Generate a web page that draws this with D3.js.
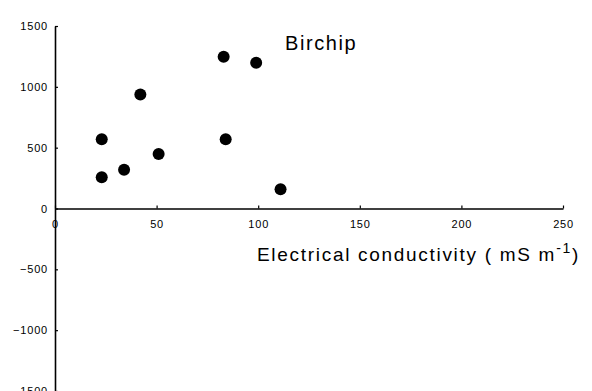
<!DOCTYPE html>
<html>
<head>
<meta charset="utf-8">
<script src="https://cdn.jsdelivr.net/npm/d3@7"></script>
<style>
  body { margin: 0; background: #fff; }
  svg { display: block; }
</style>
</head>
<body>
<div id="chart"></div>
<script>
// Birchip site: electrical conductivity vs response
const conductivity = [23, 23, 34, 42, 51, 83, 84, 99, 111];
const response = [569, 256, 319, 937, 447, 1248, 569, 1198, 159];
const xTicks = [0, 50, 100, 150, 200, 250];
const yTicks = [-1500, -1000, -500, 0, 500, 1000, 1500];
const siteName = "Birchip";

const width = 592;
const height = 391;

const svg = d3.select("#chart").append("svg")
    .attr("width", width)
    .attr("height", height);

const x = d3.scaleLinear().domain([0, 250]).range([55, 563]);
const y = d3.scaleLinear().domain([-1500, 1500]).range([391, 26]);

const font = "'Liberation Sans', Arial, sans-serif";

// Y axis (ticks point inward)
const yAxis = svg.append("g")
    .attr("transform", `translate(${x(0)},0)`)
    .call(d3.axisLeft(y).tickValues(yTicks).tickFormat(d3.format("d"))
        .tickSizeInner(-3).tickSizeOuter(0).tickPadding(7));

// X axis through zero
const xAxis = svg.append("g")
    .attr("transform", `translate(0,${y(0)})`)
    .call(d3.axisBottom(x).tickValues(xTicks).tickFormat(d3.format("d"))
        .tickSizeInner(-3).tickSizeOuter(0).tickPadding(12));

[xAxis, yAxis].forEach(g => {
    g.select(".domain").attr("stroke", "#000").attr("stroke-width", 1.6);
    g.selectAll(".tick line").attr("stroke", "#000").attr("stroke-width", 1.2);
    g.selectAll(".tick text")
        .attr("fill", "#000")
        .style("font-family", font)
        .style("font-size", "11px")
        .style("letter-spacing", "0.8px");
});

// Points
svg.append("g")
    .selectAll("circle")
    .data(conductivity.map((c, i) => [c, response[i]]))
    .join("circle")
    .attr("cx", d => x(d[0]))
    .attr("cy", d => y(d[1]))
    .attr("r", 6)
    .attr("fill", "#000");

// Site label
svg.append("text")
    .attr("x", 285)
    .attr("y", 50)
    .style("font-family", font)
    .style("font-size", "20px")
    .style("letter-spacing", "1.6px")
    .attr("fill", "#000")
    .text(siteName);

// X axis title
const xTitle = svg.append("text")
    .attr("x", 257)
    .attr("y", 261)
    .style("font-family", font)
    .style("font-size", "19px")
    .style("letter-spacing", "1.7px")
    .attr("fill", "#000");
xTitle.append("tspan").text("Electrical conductivity ( mS m");
xTitle.append("tspan").attr("dy", -8).style("font-size", "14px").text("-1");
xTitle.append("tspan").attr("dy", 8).text(")");
</script>
</body>
</html>
